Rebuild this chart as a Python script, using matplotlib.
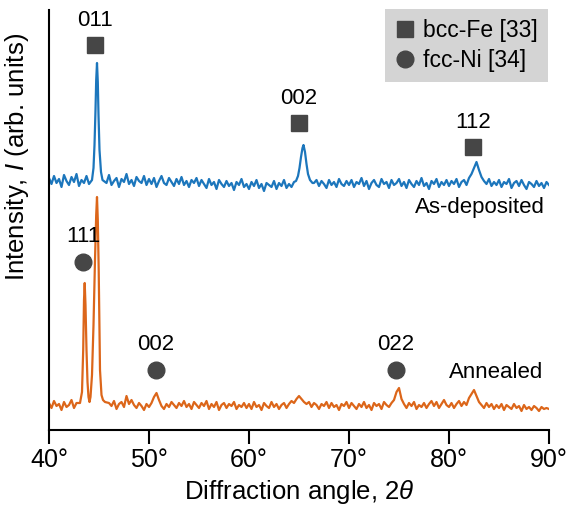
import matplotlib
matplotlib.use("Agg")
import matplotlib.pyplot as plt
import numpy as np

plt.rcParams['font.family'] = ['Liberation Sans', 'DejaVu Sans']
plt.rcParams['mathtext.fontset'] = 'custom'
plt.rcParams['mathtext.rm'] = 'Liberation Sans'
plt.rcParams['mathtext.it'] = 'Liberation Sans:italic'

# sampling grid of the scans (degrees 2theta), 0.25 deg steps
grid_start, grid_stop, grid_step = 40.0, 90.0, 0.25

# as-deposited scan, background (arb. units)
asdep_base = [
    252, 246, 254, 247, 251, 243, 255, 249, 245, 253, 248, 256, 244, 250, 247, 254, 246, 251, 249, 253,
    250, 244, 253, 247, 255, 245, 249, 252, 243, 251, 248, 256, 246, 250, 244, 253, 249, 247, 254, 245,
    251, 246, 252, 243, 249, 254, 247, 245, 252, 248, 244, 251, 246, 253, 245, 249, 243, 250, 247, 252,
    244, 250, 246, 242, 251, 245, 248, 241, 250, 246, 243, 249, 244, 247, 240, 248, 245, 251, 243, 246,
    241, 248, 244, 250, 242, 246, 239, 247, 245, 243, 249, 241, 247, 244, 250, 242, 246, 243, 248, 247,
    250, 258, 275, 283, 265, 252, 247, 250, 244, 249, 246, 242, 250, 245, 248, 243, 251, 246, 244, 249,
    245, 250, 243, 248, 246, 252, 244, 249, 241, 247, 250, 245, 243, 251, 246, 248, 242, 250, 245, 247,
    251, 244, 248, 242, 250, 246, 243, 249, 245, 252, 244, 247, 241, 249, 246, 251, 243, 248, 245, 250,
    244, 249, 246, 251, 243, 248, 250, 245, 252, 256, 262, 268, 260, 253, 249, 246, 251, 244, 248, 245,
    250, 243, 248, 246, 251, 242, 247, 249, 244, 250, 245, 241, 248, 246, 243, 249, 244, 247, 242, 248,
    245,
]
# finer points across the sharp reflections
asdep_peak_tt = [44.3, 44.45, 44.55, 44.65, 44.72, 44.8, 44.88, 44.95, 45.05, 45.2, 45.35,
                 64.7, 64.9, 65.05, 65.2, 65.35, 65.45, 65.6, 65.75, 65.9, 66.1, 66.35]
asdep_peak_i = [250, 262, 285, 320, 350, 367, 348, 315, 280, 258, 250,
                249, 254, 262, 273, 282, 285, 278, 266, 256, 250, 247]

# annealed scan
anneal_base = [
    27, 22, 29, 24, 26, 20, 28, 23, 25, 30, 22, 27, 24, 29, 31, 40, 60, 90, 35, 80,
    30, 25, 28, 22, 27, 24, 29, 21, 26, 28, 23, 34, 26, 30, 25, 22, 27, 24, 20, 26,
    23, 27, 33, 37, 30, 24, 21, 26, 23, 28, 25, 22, 27, 24, 29, 23, 26, 21, 28, 25,
    22, 27, 24, 29, 21, 26, 23, 28, 20, 25, 27, 22, 26, 24, 28, 21, 25, 23, 27, 22,
    26, 21, 28, 23, 25, 20, 27, 24, 22, 28, 23, 26, 21, 25, 27, 22, 26, 29, 27, 31,
    34, 31, 28, 26, 28, 23, 27, 25, 21, 26, 24, 28, 22, 27, 23, 25, 20, 26, 24, 28,
    22, 27, 24, 21, 26, 23, 28, 22, 25, 20, 27, 24, 26, 21, 28, 25, 23, 27, 30, 38,
    42, 31, 26, 22, 27, 24, 28, 21, 25, 23, 27, 22, 26, 29, 24, 28, 22, 26, 30, 25,
    23, 27, 22, 26, 29, 24, 28, 25, 32, 36, 40, 34, 28, 25, 22, 27, 23, 26, 21, 25,
    22, 26, 20, 25, 23, 21, 26, 22, 24, 19, 25, 21, 23, 20, 24, 22, 19, 23, 21, 22,
    21,
]
anneal_peak_tt = [43.1, 43.3, 43.42, 43.5, 43.57, 43.65, 43.75, 43.85, 43.95, 44.05, 44.15,
                  44.3, 44.45, 44.6, 44.72, 44.8, 44.88, 44.97, 45.1, 45.25, 45.4, 45.6]
anneal_peak_i = [27, 38, 80, 130, 147, 125, 80, 48, 33, 28, 33,
                 55, 105, 170, 215, 233, 210, 160, 60, 35, 30, 28]

# reflection markers: angle, marker height, label
fe_tt = [44.6, 65.0, 82.4]
fe_h = [385, 307, 283]
fe_hkl = ['011', '002', '112']
ni_tt = [43.4, 50.7, 74.7]
ni_h = [168, 60, 60]
ni_hkl = ['111', '002', '022']

BLUE = '#1c76bc'
ORANGE = '#dc661a'
MARK = '#464646'


def merge_scan(base, peak_tt, peak_i):
    tt = np.arange(grid_start, grid_stop + grid_step / 2, grid_step)
    base = np.asarray(base, dtype=float)
    ptt = np.asarray(peak_tt)
    keep = np.array([np.min(np.abs(ptt - t)) > 0.15 for t in tt])
    x = np.concatenate([tt[keep], ptt])
    y = np.concatenate([base[keep], np.asarray(peak_i, dtype=float)])
    order = np.argsort(x)
    return x[order], y[order]


fig = plt.figure(figsize=(5.71, 5.15), dpi=100)
ax = fig.add_axes([49 / 571, 85 / 515, 500 / 571, 420 / 515])

x1, y1 = merge_scan(asdep_base, asdep_peak_tt, asdep_peak_i)
x2, y2 = merge_scan(anneal_base, anneal_peak_tt, anneal_peak_i)
ax.plot(x1, y1, color=BLUE, lw=1.6)
ax.plot(x2, y2, color=ORANGE, lw=1.6)

for t, h, lab in zip(fe_tt, fe_h, fe_hkl):
    ax.plot(t, h, 's', color=MARK, ms=11.5)
    ax.text(t, h + 25, lab, ha='center', va='center', fontsize=16)
for t, h, lab in zip(ni_tt, ni_h, ni_hkl):
    ax.plot(t, h, 'o', color=MARK, ms=12)
    ax.text(t, h + 25, lab, ha='center', va='center', fontsize=16)

ax.text(89.6, 222, 'As-deposited', ha='right', va='center', fontsize=16)
ax.text(89.4, 57, 'Annealed', ha='right', va='center', fontsize=16)

# legend
h_fe, = ax.plot([], [], 's', color=MARK, ms=11.5, label='bcc-Fe [33]')
h_ni, = ax.plot([], [], 'o', color=MARK, ms=12, label='fcc-Ni [34]')
leg = ax.legend(handles=[h_fe, h_ni], loc='upper right', bbox_to_anchor=(0.998, 1.003),
                borderaxespad=0, fontsize=16.5, handlelength=0.8, handletextpad=0.4,
                labelspacing=0.3, borderpad=0.45, fancybox=False, frameon=True)
leg.get_frame().set_facecolor('#d4d4d4')
leg.get_frame().set_edgecolor('none')
leg.get_frame().set_alpha(1)

ax.set_xlim(40, 90)
ax.set_ylim(0, 420)
ax.set_xticks([40, 50, 60, 70, 80, 90])
ax.set_xticklabels(['40°', '50°', '60°', '70°', '80°', '90°'])
ax.set_yticks([])
ax.tick_params(axis='x', direction='out', length=10, width=1.5, labelsize=18, pad=3)
for s in ['top', 'right']:
    ax.spines[s].set_visible(False)
for s in ['left', 'bottom']:
    ax.spines[s].set_linewidth(1.5)

ax.set_xlabel(r'Diffraction angle, 2$\mathit{\theta}$', fontsize=18.5, labelpad=4)
ax.set_ylabel(r'Intensity, $\mathit{I}$ (arb. units)', fontsize=18.5)
ax.yaxis.set_label_coords(-0.036, 0.65)

fig.savefig('out.png', dpi=100)
